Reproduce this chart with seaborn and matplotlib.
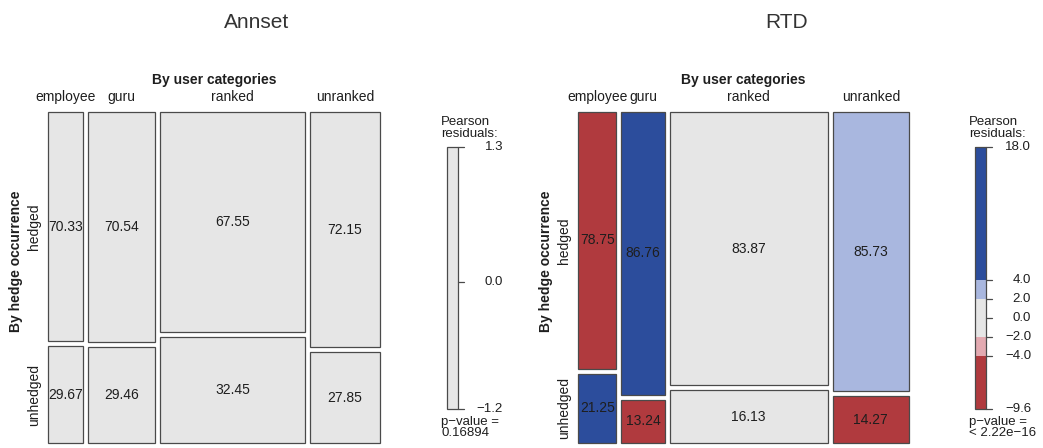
import numpy as np
import matplotlib
matplotlib.use("Agg")
import matplotlib.pyplot as plt
from matplotlib.colors import ListedColormap, BoundaryNorm
from matplotlib.patches import Rectangle
import seaborn as sns

# ---- data -------------------------------------------------------------
users = ["employee", "guru", "ranked", "unranked"]
hedge_levels = ["hedged", "unhedged"]

# number of posts per user category (sets the column widths)
annset_totals = [327, 624, 1340, 654]
annset_hedged_pct = [70.33, 70.54, 67.55, 72.15]
annset_unhedged_pct = [29.67, 29.46, 32.45, 27.85]
annset_pvalue = "0.16894"

rtd_totals = [18080, 20450, 74300, 36000]
rtd_hedged_pct = [78.75, 86.76, 83.87, 85.73]
rtd_unhedged_pct = [21.25, 13.24, 16.13, 14.27]
rtd_pvalue = "< 2.22e\u221216"

residual_ticks = [-4, -2, 0, 2, 4]

# ---- style ------------------------------------------------------------
sns.set_theme(style="white")
plt.rcParams["font.family"] = ["Liberation Sans", "DejaVu Sans"]
plt.rcParams["axes.unicode_minus"] = True

W, H = 1043, 448
fig = plt.figure(figsize=(W / 100, H / 100), dpi=100)
fig.patch.set_facecolor("white")

TXT = "#1e1e1e"
EDGE = "#4a4a4a"
BLUE, LBLUE = "#2c4d9c", "#a9b7df"
GREY = "#e6e6e6"
LRED, RED = "#e3aab1", "#b03a3e"
shade_cmap = ListedColormap([RED, LRED, GREY, LBLUE, BLUE])
shade_norm = BoundaryNorm([-1e6, -4, -2, 2, 4, 1e6], shade_cmap.N)
FS = 10


def px_axes(x0, y0, x1, y1):
    return fig.add_axes([x0 / W, 1 - y1 / H, (x1 - x0) / W, (y1 - y0) / H])


def pearson_residuals(totals, hedged_pct, unhedged_pct):
    totals = np.asarray(totals, float)
    obs = np.vstack([totals * np.asarray(hedged_pct) / 100,
                     totals * np.asarray(unhedged_pct) / 100])
    exp = obs.sum(axis=1, keepdims=True) * obs.sum(axis=0, keepdims=True) / obs.sum()
    return (obs - exp) / np.sqrt(exp)


def fmt(v):
    return f"{v:.1f}".replace("-", "\u2212")


def mosaic(box, legend_x, title, totals, hedged_pct, unhedged_pct, pvalue):
    x0, y0, x1, y1 = box
    ax = px_axes(x0, y0, x1, y1)
    ax.set_xlim(0, 1)
    ax.set_ylim(1, 0)
    ax.axis("off")

    resid = pearson_residuals(totals, hedged_pct, unhedged_pct)
    pct = np.vstack([hedged_pct, unhedged_pct])
    shares = np.asarray(totals, float) / np.sum(totals)
    gap = 5 / (x1 - x0)
    avail_x = 1 - gap * (len(users) - 1)
    avail_y = 1 - gap * (len(hedge_levels) - 1)

    left = 0.0
    for j, user in enumerate(users):
        w = shares[j] * avail_x
        top = 0.0
        for i, lev in enumerate(hedge_levels):
            h = pct[i, j] / 100 * avail_y
            color = shade_cmap(shade_norm(resid[i, j]))
            ax.add_patch(Rectangle((left, top), w, h, facecolor=color,
                                   edgecolor=EDGE, lw=0.9, clip_on=False))
            ax.text(left + w / 2, top + h / 2, f"{pct[i, j]:.2f}",
                    ha="center", va="center", fontsize=FS, color=TXT)
            if j == 0:
                ax.text(-14 / (x1 - x0), top + h / 2, lev,
                        rotation=90, ha="center", va="center",
                        fontsize=FS, color=TXT, clip_on=False)
            top += h + gap
        ax.text(left + w / 2, -15 / (y1 - y0), user, ha="center",
                va="center", fontsize=FS, color=TXT)
        left += w + gap

    ax.text(0.5, -32 / (y1 - y0), "By user categories", ha="center",
            va="center", fontsize=FS, fontweight="bold", color=TXT)
    ax.text(-32 / (x1 - x0), 0.45, "By hedge occurrence", rotation=90,
            ha="center", va="center", fontsize=FS, fontweight="bold",
            color=TXT)
    ax.text(0.5 + 43 / (x1 - x0), -90 / (y1 - y0), title, ha="center",
            va="center", fontsize=15, color="#333333")

    # residual legend strip
    rmax, rmin = resid.max(), resid.min()
    lx0, ly0, ly1 = legend_x, 147, 409
    lax = px_axes(lx0, ly0, lx0 + 11, ly1)
    steps = 400
    strip = np.linspace(rmax, rmin, steps)[:, None]
    sns.heatmap(strip, ax=lax, cmap=shade_cmap, norm=shade_norm, cbar=False,
                xticklabels=False, yticklabels=False)
    lax.add_patch(Rectangle((0, 0), 1, steps, fill=False, edgecolor=EDGE,
                            lw=0.9, clip_on=False))

    def ypos(v):
        return (rmax - v) / (rmax - rmin) * steps

    ticks = [rmax] + [t for t in residual_ticks[::-1] if rmin < t < rmax] + [rmin]
    for t in ticks:
        y = ypos(t)
        lax.plot([1, 1 + 6 / 11], [y, y], color=EDGE, lw=0.9, clip_on=False)
        lax.text(1 + 45 / 11, y, fmt(t), ha="right", va="center",
                 fontsize=9.5, color=TXT, clip_on=False)
    lax.text(-6 / 11, -10, "Pearson\nresiduals:", ha="left", va="bottom",
             fontsize=9.5, color=TXT, linespacing=1.0, clip_on=False)
    lax.text(-6 / 11, steps + 10, "p\u2212value =\n" + pvalue, ha="left",
             va="top", fontsize=9.5, color=TXT, linespacing=0.95, clip_on=False)


mosaic((48, 112, 380, 443), 447, "Annset",
       annset_totals, annset_hedged_pct, annset_unhedged_pct, annset_pvalue)
mosaic((578, 112, 909, 443), 975, "RTD",
       rtd_totals, rtd_hedged_pct, rtd_unhedged_pct, rtd_pvalue)

fig.savefig("out.png", dpi=100, facecolor="white")
